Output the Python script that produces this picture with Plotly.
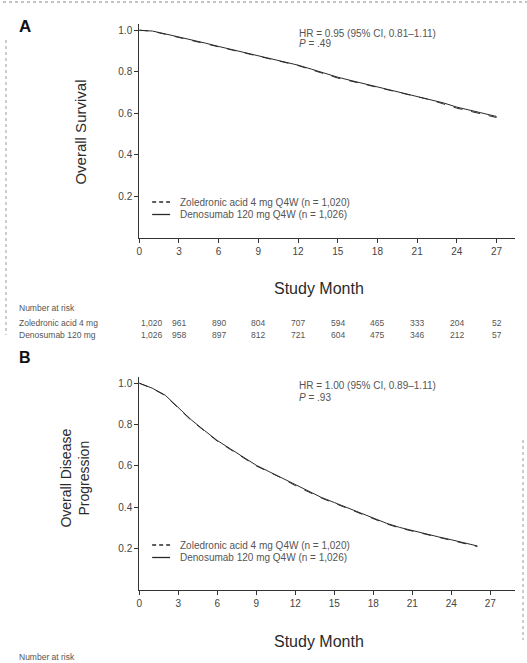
import plotly.graph_objects as go

W, H = 527, 663

# Kaplan-Meier estimates by study month
months = list(range(0, 28))
os_zol = [1.0, 0.995, 0.98, 0.965, 0.95, 0.935, 0.92, 0.905, 0.89, 0.875, 0.86, 0.845, 0.83, 0.81,
          0.79, 0.77, 0.755, 0.74, 0.725, 0.71, 0.695, 0.68, 0.665, 0.645, 0.625, 0.61, 0.595, 0.58]
os_den = [1.0, 0.996, 0.982, 0.968, 0.953, 0.938, 0.922, 0.907, 0.893, 0.878, 0.862, 0.848, 0.832, 0.813,
          0.793, 0.774, 0.758, 0.743, 0.728, 0.713, 0.698, 0.683, 0.668, 0.65, 0.63, 0.614, 0.6, 0.585]
months_b = list(range(0, 27))
dp_zol = [1.0, 0.975, 0.94, 0.88, 0.82, 0.77, 0.72, 0.68, 0.64, 0.6, 0.57, 0.54, 0.505, 0.475,
          0.445, 0.42, 0.395, 0.37, 0.345, 0.32, 0.3, 0.285, 0.27, 0.255, 0.24, 0.225, 0.21]
dp_den = [1.0, 0.976, 0.942, 0.883, 0.823, 0.772, 0.723, 0.683, 0.642, 0.603, 0.572, 0.542, 0.508, 0.478,
          0.448, 0.423, 0.398, 0.372, 0.348, 0.323, 0.303, 0.287, 0.272, 0.257, 0.243, 0.228, 0.213]

risk_months = [0, 3, 6, 9, 12, 15, 18, 21, 24, 27]
risk_zol = ["1,020", "961", "890", "804", "707", "594", "465", "333", "204", "52"]
risk_den = ["1,026", "958", "897", "812", "721", "604", "475", "346", "212", "57"]

x_ticks = [0, 3, 6, 9, 12, 15, 18, 21, 24, 27]
y_ticks = [0.2, 0.4, 0.6, 0.8, 1.0]
y_ticktext = ["0.2", "0.4", "0.6", "0.8", "1.0"]

label_zol = "Zoledronic acid 4 mg Q4W (n = 1,020)"
label_den = "Denosumab 120 mg Q4W (n = 1,026)"

FONT = "Liberation Sans Narrow, Liberation Sans, Arial, sans-serif"
INK = "#2a2a2a"
SOFT = "#555555"


def px(x):
    return x / W


def py(y):
    return 1 - y / H


fig = go.Figure()

# Panel A: overall survival
fig.add_trace(go.Scatter(x=months, y=os_zol, mode="lines", name=label_zol, showlegend=False,
                         line=dict(color=INK, width=1, dash="dash"), xaxis="x", yaxis="y"))
fig.add_trace(go.Scatter(x=months, y=os_den, mode="lines", name=label_den, showlegend=False,
                         line=dict(color=INK, width=1), xaxis="x", yaxis="y"))
# Panel B: disease progression
fig.add_trace(go.Scatter(x=months_b, y=dp_zol, mode="lines", name=label_zol, showlegend=False,
                         line=dict(color=INK, width=1, dash="dash"), xaxis="x2", yaxis="y2"))
fig.add_trace(go.Scatter(x=months_b, y=dp_den, mode="lines", name=label_den, showlegend=False,
                         line=dict(color=INK, width=1), xaxis="x2", yaxis="y2"))

axis_common = dict(showgrid=False, zeroline=False, showline=True, linecolor="#333333", linewidth=1,
                   ticks="outside", ticklen=4, tickcolor="#333333",
                   tickfont=dict(family=FONT, size=10, color="#444444"))

xdom = [px(137), px(515)]
fig.update_layout(
    width=W, height=H,
    margin=dict(l=0, r=0, t=0, b=0),
    paper_bgcolor="white", plot_bgcolor="white",
    font=dict(family=FONT, color=INK),
    showlegend=False,
    xaxis=dict(domain=xdom, range=[0, 28.4], tickvals=x_ticks, anchor="y", **axis_common),
    yaxis=dict(domain=[py(238), py(24)], range=[0, 1.03], tickvals=y_ticks, ticktext=y_ticktext,
               anchor="x", **axis_common),
    xaxis2=dict(domain=xdom, range=[0, 28.9], tickvals=x_ticks, anchor="y2", **axis_common),
    yaxis2=dict(domain=[py(590), py(377)], range=[0, 1.03], tickvals=y_ticks, ticktext=y_ticktext,
                anchor="x2", **axis_common),
)

ann = []
shapes = []


def text(x, y, s, size, **kw):
    d = dict(x=x, y=y, xref="paper", yref="paper", text=s, showarrow=False,
             font=dict(family=FONT, size=size, color=kw.pop("color", INK)))
    d.update(kw)
    ann.append(d)


def legend_block(top):
    # Two-entry key: short line sample followed by the arm label
    for i, (lab, dash) in enumerate([(label_zol, "dash"), (label_den, "solid")]):
        yy = top + i * 12.5
        shapes.append(dict(type="line", xref="paper", yref="paper", x0=px(150), x1=px(168),
                           y0=py(yy), y1=py(yy), line=dict(color=INK, width=1.3,
                                                          dash="4px,3px" if dash == "dash" else "solid")))
        text(px(176), py(yy), lab, 10, xanchor="left", yanchor="middle", color=SOFT)


# Panel letters
text(px(14), py(27), "<b>A</b>", 17, xanchor="left", yanchor="middle", color="#111111")
text(px(14), py(357), "<b>B</b>", 16, xanchor="left", yanchor="middle", color="#111111")

# Axis titles
text(px(78), py(132), "Overall Survival", 15, textangle=-90, xanchor="center", yanchor="middle")
text(px(72), py(478), "Overall Disease<br>Progression", 14, textangle=-90, xanchor="center", yanchor="middle")
text(px(318), py(288), "Study Month", 16, xanchor="center", yanchor="middle")
text(px(318), py(641), "Study Month", 16, xanchor="center", yanchor="middle")

# Hazard ratios
text(px(296), py(33), "HR = 0.95 (95% CI, 0.81–1.11)", 10, xanchor="left", yanchor="middle", color=SOFT)
text(px(296), py(44), "<i>P</i> = .49", 10, xanchor="left", yanchor="middle", color=SOFT)
text(px(296), py(385), "HR = 1.00 (95% CI, 0.89–1.11)", 10, xanchor="left", yanchor="middle", color=SOFT)
text(px(296), py(397), "<i>P</i> = .93", 10, xanchor="left", yanchor="middle", color=SOFT)

legend_block(202)
legend_block(545)

# Number at risk table under panel A
text(px(14), py(308), "Number at risk", 8.5, xanchor="left", yanchor="middle", color=SOFT)
text(px(14), py(323), "Zoledronic acid 4 mg", 8.5, xanchor="left", yanchor="middle", color=SOFT)
text(px(14), py(335), "Denosumab 120 mg", 8.5, xanchor="left", yanchor="middle", color=SOFT)
for m, a, b in zip(risk_months, risk_zol, risk_den):
    anchor = "left" if m == 0 else "center"
    ann.append(dict(x=m, y=py(323), xref="x", yref="paper", text=a, showarrow=False, xanchor=anchor,
                    yanchor="middle", font=dict(family=FONT, size=8.5, color=SOFT)))
    ann.append(dict(x=m, y=py(335), xref="x", yref="paper", text=b, showarrow=False, xanchor=anchor,
                    yanchor="middle", font=dict(family=FONT, size=8.5, color=SOFT)))

text(px(14), py(657), "Number at risk", 8.5, xanchor="left", yanchor="middle", color=SOFT)

# Page border rules
shapes.append(dict(type="line", xref="paper", yref="paper", x0=0, x1=1, y0=py(2), y1=py(2),
                   line=dict(color="#888888", width=1, dash="dot")))
shapes.append(dict(type="line", xref="paper", yref="paper", x0=px(3), x1=px(3), y0=py(40), y1=py(335),
                   line=dict(color="#999999", width=1, dash="dot")))
shapes.append(dict(type="line", xref="paper", yref="paper", x0=px(523), x1=px(523), y0=py(440), y1=py(640),
                   line=dict(color="#999999", width=1, dash="dot")))

fig.update_layout(annotations=ann, shapes=shapes)

fig.write_html("out.html")
